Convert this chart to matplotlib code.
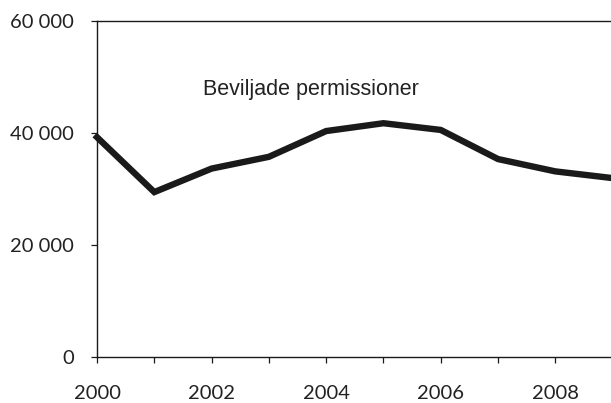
import matplotlib
matplotlib.use("Agg")
import matplotlib.pyplot as plt
from matplotlib.ticker import FuncFormatter

years = [2000, 2001, 2002, 2003, 2004, 2005, 2006, 2007, 2008, 2009]
values = [39300, 29500, 33700, 35800, 40400, 41800, 40600, 35400, 33200, 32000]
yticks = [0, 20000, 40000, 60000]
xtick_labels = [2000, 2002, 2004, 2006, 2008]
label_text = "Beviljade permissioner"

fig = plt.figure(figsize=(6.11, 4.03), dpi=100)
ax = fig.add_axes([97/611, 1-357.3/403, (612.6-97)/611, (357.3-21.3)/403])

ax.plot(years, values, color="#1a1a1a", lw=4.6, solid_joinstyle="miter", clip_on=False)

ax.set_xlim(2000, 2009)
ax.set_ylim(0, 60000)
ax.set_yticks(yticks)
ax.yaxis.set_major_formatter(FuncFormatter(lambda v, p: f"{int(v):,}".replace(",", " ")))
ax.set_xticks(years)
ax.set_xticklabels([str(y) if y in xtick_labels else "" for y in years])

for s in ["left", "bottom", "top"]:
    ax.spines[s].set_linewidth(1.0)
    ax.spines[s].set_color("#1a1a1a")
ax.spines["right"].set_visible(False)

ax.tick_params(axis="both", direction="out", length=4.3, width=0.9, color="#1a1a1a",
               labelsize=14.5, labelcolor="#222222")
ax.tick_params(axis="y", pad=12)
ax.tick_params(axis="x", pad=16)
for lab in ax.get_xticklabels() + ax.get_yticklabels():
    lab.set_fontfamily("Lato")

ax.text(2003.74, 47900, label_text, ha="center", va="center", fontsize=15.5,
        family="Liberation Sans", color="#222222")

fig.savefig("out.png", dpi=100)
